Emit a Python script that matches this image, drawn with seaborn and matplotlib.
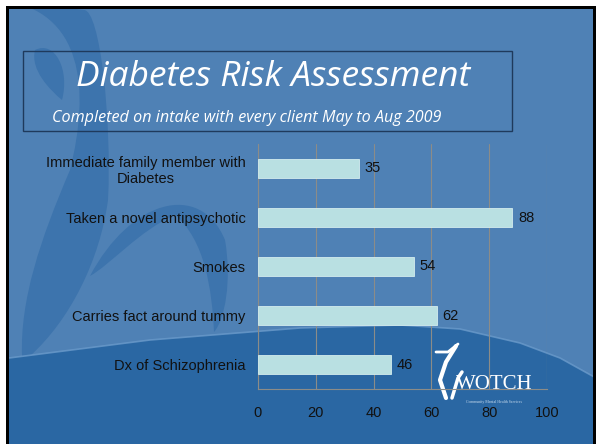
import numpy as np
import pandas as pd
import matplotlib
matplotlib.use("Agg")
import matplotlib.pyplot as plt
import seaborn as sns
from matplotlib.patches import Rectangle, Polygon, PathPatch
from matplotlib.path import Path

# -------------------------------
# Data
# -------------------------------
categories = [
    "Immediate family member with\nDiabetes",
    "Taken a novel antipsychotic",
    "Smokes",
    "Carries fact around tummy",
    "Dx of Schizophrenia",
]
counts = [35, 88, 54, 62, 46]
x_ticks = [0, 20, 40, 60, 80, 100]

title = "Diabetes Risk Assessment"
subtitle = "Completed on intake with every client May to Aug 2009"

df = pd.DataFrame({"item": categories, "count": counts})

# -------------------------------
# Colours
# -------------------------------
BG_TOP = "#4f81b5"
BG_LOW = "#2a67a3"
SHAPE = "#3d74ad"
BAR = "#b9e0e2"
AXIS = "#8c8c88"

sns.set_theme(style="white")
plt.rcParams["font.family"] = ["Liberation Sans", "DejaVu Sans"]

fig = plt.figure(figsize=(5.96, 4.44), dpi=100)
fig.patch.set_facecolor("white")

# -------------------------------
# Slide background (pixel coordinates)
# -------------------------------
bg = fig.add_axes([0, 0, 1, 1], zorder=0)
bg.set_xlim(0, 596)
bg.set_ylim(444, 0)
bg.axis("off")

bg.add_patch(Rectangle((6, 6), 590, 440, facecolor="black", edgecolor="none"))
inner = Rectangle((9, 9), 584, 440, facecolor=BG_TOP, edgecolor="none")
bg.add_patch(inner)

# decorative swoosh figure on the left
body = Path(
    [(84, 10), (100, 10), (112, 120), (108, 200), (100, 260), (70, 320), (30, 356),
     (22, 356), (20, 300), (40, 240), (70, 170), (90, 90), (84, 10)],
    [Path.MOVETO, Path.CURVE4, Path.CURVE4, Path.CURVE4, Path.CURVE4, Path.CURVE4,
     Path.CURVE4, Path.LINETO, Path.CURVE4, Path.CURVE4, Path.CURVE4, Path.CURVE4,
     Path.CURVE4],
)
head = Path(
    [(35, 50), (55, 40), (70, 70), (62, 100), (50, 90), (30, 70), (35, 50)],
    [Path.MOVETO, Path.CURVE4, Path.CURVE4, Path.CURVE4, Path.CURVE4, Path.CURVE4, Path.CURVE4],
)
arm = Path(
    [(90, 276), (130, 200), (200, 180), (225, 240), (232, 280), (225, 320), (214, 332),
     (212, 290), (205, 240), (175, 215), (140, 230), (110, 265), (90, 276)],
    [Path.MOVETO, Path.CURVE4, Path.CURVE4, Path.CURVE4, Path.CURVE4, Path.CURVE4,
     Path.CURVE4, Path.CURVE4, Path.CURVE4, Path.CURVE4, Path.CURVE4, Path.CURVE4,
     Path.CURVE4],
)
for shape in (body, head, arm):
    p = PathPatch(shape, facecolor=SHAPE, edgecolor="none")
    bg.add_patch(p)
    p.set_clip_path(inner)

# darker lower band
curve = [(9, 358), (150, 340), (300, 328), (400, 325), (460, 329), (520, 343),
         (560, 358), (596, 378)]
low = Polygon(curve + [(596, 444), (9, 444)], closed=True,
              facecolor=BG_LOW, edgecolor="none")
bg.add_patch(low)
low.set_clip_path(inner)
cx, cy = zip(*curve)
edge_line, = bg.plot(cx, cy, color="#6b9bcb", lw=1.2, alpha=0.8)
edge_line.set_clip_path(inner)

# title box
bg.add_patch(Rectangle((23, 51), 489, 80, facecolor="none",
                       edgecolor="#1f3a5c", lw=1))
bg.text(273, 77, title, color="white", fontsize=25.5, style="italic",
        family=["Open Sans", "DejaVu Sans"], ha="center", va="center")
bg.text(52, 118, subtitle, color="white", fontsize=11.6, style="italic",
        family=["Open Sans", "DejaVu Sans"], ha="left", va="center")

# WOTCH logo (approximation)
bg.text(494, 384, "WOTCH", color="white", fontsize=15,
        family=["Liberation Serif", "DejaVu Serif"], ha="center", va="center")
bg.text(494, 402, "Community Mental Health Services", color="#c9dcee",
        fontsize=2.8, family=["Liberation Serif", "DejaVu Serif"],
        ha="center", va="center")
bg.plot([446, 440, 446, 456], [398, 380, 362, 346], color="white", lw=3,
        solid_capstyle="round")
bg.plot([436, 448, 458], [352, 352, 344], color="white", lw=2,
        solid_capstyle="round")
bg.plot([452, 458, 462], [398, 378, 372], color="white", lw=2.5,
        solid_capstyle="round")

# -------------------------------
# Bar chart
# -------------------------------
ax = fig.add_axes([258 / 596, 1 - 389 / 444, 289 / 596, 245 / 444], zorder=2)
ax.set_facecolor("none")

sns.barplot(data=df, x="count", y="item", orient="h", color=BAR,
            width=0.4, edgecolor="#d4ecee", linewidth=0.6, saturation=1,
            ax=ax, zorder=3)

ax.set_xlim(0, 100)
ax.set_ylim(4.5, -0.5)
ax.set_xticks(x_ticks)
ax.set_xticklabels([str(t) for t in x_ticks], fontsize=10.5, color="#111111")
ax.set_yticks(range(len(categories)))
ax.set_yticklabels(categories, fontsize=10.5, color="#111111")
ax.set_yticks(np.arange(-0.5, len(categories), 1), minor=True)
ax.tick_params(axis="y", which="major", length=0, pad=9)
ax.tick_params(axis="y", which="minor", length=4, color=AXIS, width=0.8)
ax.tick_params(axis="x", length=5, color=AXIS, width=0.8, pad=7)
for lbl in ax.get_yticklabels():
    lbl.set_multialignment("center")

ax.grid(axis="x", color=AXIS, lw=0.8, zorder=0)
ax.set_axisbelow(True)
for side in ["top", "right"]:
    ax.spines[side].set_visible(False)
for side in ["left", "bottom"]:
    ax.spines[side].set_color(AXIS)
    ax.spines[side].set_linewidth(0.8)
ax.set_xlabel("")
ax.set_ylabel("")

ax.bar_label(ax.containers[0], padding=4, fontsize=10.5, color="#111111")

fig.savefig("out.png", dpi=100, facecolor=fig.get_facecolor())
